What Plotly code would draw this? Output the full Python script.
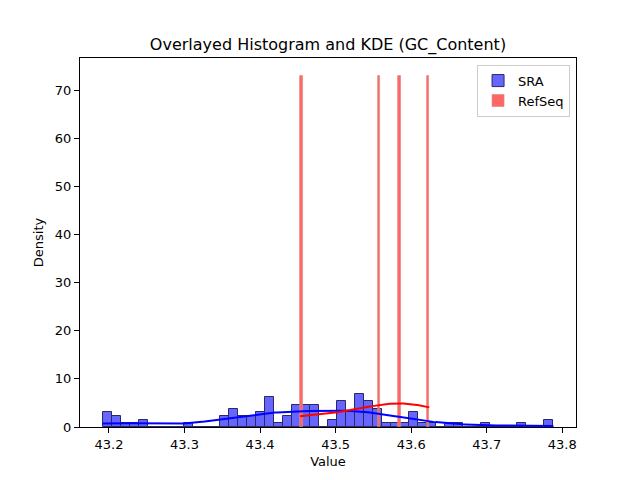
import numpy as np
import plotly.graph_objects as go

# ---- data ----
sra_min = 43.1915
sra_max = 43.7883
n_bins = 50
sra_counts = [4, 3, 1, 1, 2, 0, 0, 0, 0, 1,
              0, 0, 0, 3, 5, 3, 3, 4, 8, 1,
              3, 6, 6, 6, 0, 2, 7, 4, 9, 7,
              5, 1, 1, 1, 4, 1, 1, 0, 1, 1,
              0, 0, 1, 0, 0, 0, 1, 0, 0, 2]
refseq_values = [43.4530, 43.5570, 43.5850, 43.6240]

x_ticks = [43.2, 43.3, 43.4, 43.5, 43.6, 43.7, 43.8]
y_ticks = [0, 10, 20, 30, 40, 50, 60, 70]

# ---- derived ----
sra_edges = np.linspace(sra_min, sra_max, n_bins + 1)
sra_w = sra_edges[1] - sra_edges[0]
sra_centers = (sra_edges[:-1] + sra_edges[1:]) / 2
counts = np.array(sra_counts, dtype=float)
sra_n = counts.sum()
sra_density = counts / (sra_n * sra_w)
sra_samples = np.repeat(sra_centers, np.array(sra_counts))

ref = np.array(refseq_values)
ref_density, ref_edges = np.histogram(ref, bins=n_bins, density=True)
ref_w = ref_edges[1] - ref_edges[0]
ref_centers = (ref_edges[:-1] + ref_edges[1:]) / 2


def kde(samples, lo, hi, gridsize=200):
    samples = np.asarray(samples, dtype=float)
    n = len(samples)
    bw = samples.std(ddof=1) * n ** (-1 / 5)
    grid = np.linspace(lo, hi, gridsize)
    z = (grid[:, None] - samples[None, :]) / bw
    dens = np.exp(-0.5 * z ** 2).sum(axis=1) / (n * bw * np.sqrt(2 * np.pi))
    return grid, dens


gx_s, gy_s = kde(sra_samples, sra_min, sra_max)
gx_r, gy_r = kde(ref, ref.min(), ref.max())

fig = go.Figure()
fig.add_trace(go.Bar(x=sra_centers, y=sra_density, width=sra_w, name="SRA",
                     marker=dict(color="#6666ff", line=dict(color="#292966", width=1))))
fig.add_trace(go.Scatter(x=gx_s, y=gy_s, mode="lines", line=dict(color="blue", width=2),
                         showlegend=False, hoverinfo="skip"))
mask = ref_density > 0
fig.add_trace(go.Bar(x=ref_centers[mask], y=ref_density[mask], width=ref_w, name="RefSeq",
                     marker=dict(color="#ff6666", line=dict(color="rgba(215,140,130,0.8)", width=0.8))))
fig.add_trace(go.Scatter(x=gx_r, y=gy_r, mode="lines", line=dict(color="red", width=2),
                         showlegend=False, hoverinfo="skip"))

span = sra_max - sra_min
xr = [sra_min - 0.05 * span, sra_max + 0.05 * span]
ymax = ref_density.max() * 1.05

axis_common = dict(showline=True, linecolor="black", linewidth=1, mirror=True,
                   ticks="outside", ticklen=5, tickwidth=1, tickcolor="black",
                   showgrid=False, zeroline=False,
                   tickfont=dict(family="DejaVu Sans", size=13, color="black"))

fig.update_layout(
    width=640, height=480,
    margin=dict(l=80, r=64, t=58, b=53),
    plot_bgcolor="white", paper_bgcolor="white",
    barmode="overlay", bargap=0,
    font=dict(family="DejaVu Sans", size=13, color="black"),
    title=dict(text="Overlayed Histogram and KDE (GC_Content)", x=0.5, xref="paper",
               xanchor="center", y=1 - 44 / 480, yanchor="middle",
               font=dict(family="DejaVu Sans", size=16, color="black")),
    xaxis=dict(range=xr, tickvals=x_ticks, ticktext=[f"{v:.1f}" for v in x_ticks],
               title=dict(text="Value", font=dict(size=13), standoff=6), **axis_common),
    yaxis=dict(range=[0, ymax], tickvals=y_ticks,
               title=dict(text="Density", font=dict(size=13), standoff=8), **axis_common),
    legend=dict(x=0.988, y=0.982, xanchor="right", yanchor="top",
                bgcolor="rgba(255,255,255,0.8)", bordercolor="#cccccc", borderwidth=1,
                font=dict(family="DejaVu Sans", size=13), tracegroupgap=2),
)

fig.write_html("out.html")
